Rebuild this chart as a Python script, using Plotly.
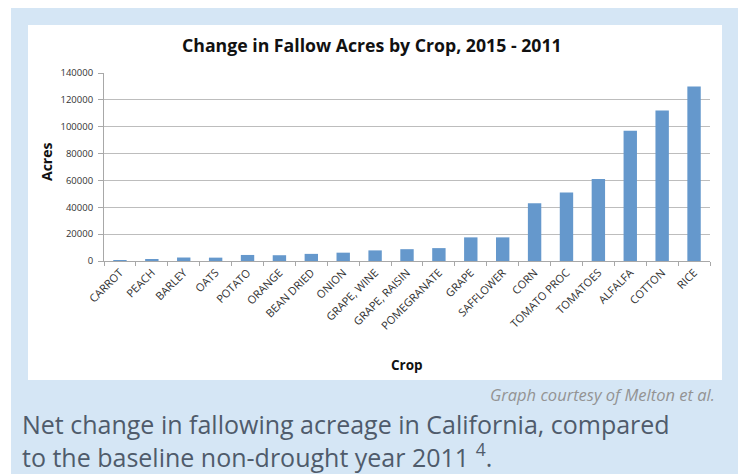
import plotly.graph_objects as go

crops = ["CARROT", "PEACH", "BARLEY", "OATS", "POTATO", "ORANGE", "BEAN DRIED",
         "ONION", "GRAPE, WINE", "GRAPE, RAISIN", "POMEGRANATE", "GRAPE",
         "SAFFLOWER", "CORN", "TOMATO PROC", "TOMATOES", "ALFALFA", "COTTON", "RICE"]
acres = [600, 1500, 2600, 2500, 4500, 4300, 5300,
         6200, 7900, 8800, 9600, 17600,
         17600, 43000, 51000, 61000, 97000, 112000, 130000]
y_ticks = [0, 20000, 40000, 60000, 80000, 100000, 120000, 140000]

W, H = 743, 474
L, R, T, B = 104, 710, 73, 261  # plot area in pixels

def px(x):
    return (x - L) / (R - L)

def py(y):
    return (B - y) / (B - T)

fig = go.Figure(go.Bar(x=crops, y=acres, marker=dict(color="#6598cc", line=dict(width=0)),
                       width=0.42))

fig.update_layout(
    width=W, height=H,
    margin=dict(l=L, r=W - R, t=T, b=H - B, pad=0),
    paper_bgcolor="#ffffff",
    plot_bgcolor="rgba(0,0,0,0)",
    showlegend=False,
    font=dict(family="Open Sans", color="#222222"),
)

fig.update_yaxes(range=[0, 140000], tickvals=y_ticks, ticktext=[str(v) for v in y_ticks],
                 showgrid=True, gridcolor="#bdbdbd", gridwidth=1,
                 showline=True, linecolor="#a8a8a8", linewidth=1,
                 ticks="outside", ticklen=5, tickcolor="#a8a8a8",
                 ticklabelstandoff=3,
                 tickfont=dict(size=9.5, family="Open Sans", color="#333333"),
                 zeroline=False, fixedrange=True)
fig.update_xaxes(showline=True, linecolor="#a8a8a8", linewidth=1,
                 ticks="outside", ticklen=4, tickcolor="#a8a8a8",
                 tickson="boundaries",
                 tickangle=-45,
                 tickfont=dict(size=11, family="Open Sans", color="#333333"),
                 fixedrange=True)

shapes = [
    # light blue page background
    dict(type="rect", xref="paper", yref="paper", layer="below",
         x0=px(11), x1=px(738), y0=py(474), y1=py(8),
         fillcolor="#d5e6f5", line=dict(width=0)),
    # white chart panel
    dict(type="rect", xref="paper", yref="paper", layer="below",
         x0=px(28), x1=px(722), y0=py(380), y1=py(25),
         fillcolor="#ffffff", line=dict(width=0)),
]
fig.update_layout(shapes=shapes)

annotations = [
    dict(text="<b>Change in Fallow Acres by Crop, 2015 - 2011</b>",
         x=px(372), y=py(45), xref="paper", yref="paper",
         xanchor="center", yanchor="middle", showarrow=False,
         font=dict(size=17.7, family="Open Sans", color="#111111")),
    dict(text="<b>Acres</b>", x=px(46), y=py(162), xref="paper", yref="paper",
         xanchor="center", yanchor="middle", textangle=-90, showarrow=False,
         font=dict(size=14, family="Open Sans", color="#111111")),
    dict(text="<b>Crop</b>", x=px(407), y=py(365), xref="paper", yref="paper",
         xanchor="center", yanchor="middle", showarrow=False,
         font=dict(size=13.5, family="Open Sans", color="#111111")),
    dict(text="<i>Graph courtesy of Melton et al.</i>", x=px(717), y=py(394),
         xref="paper", yref="paper", xanchor="right", yanchor="middle", showarrow=False,
         font=dict(size=16.5, family="Open Sans", color="#939393")),
    dict(text="Net change in fallowing acreage in California, compared<br>"
              "to the baseline non-drought year 2011 <sup>4</sup>.",
         x=px(20), y=py(440), xref="paper", yref="paper", align="left",
         xanchor="left", yanchor="middle", showarrow=False,
         font=dict(size=25, family="Open Sans", color="#4f5b6b")),
]
fig.update_layout(annotations=annotations)

fig.write_html("out.html", config={"displayModeBar": False},
               post_script="document.body.style.margin='0';")
